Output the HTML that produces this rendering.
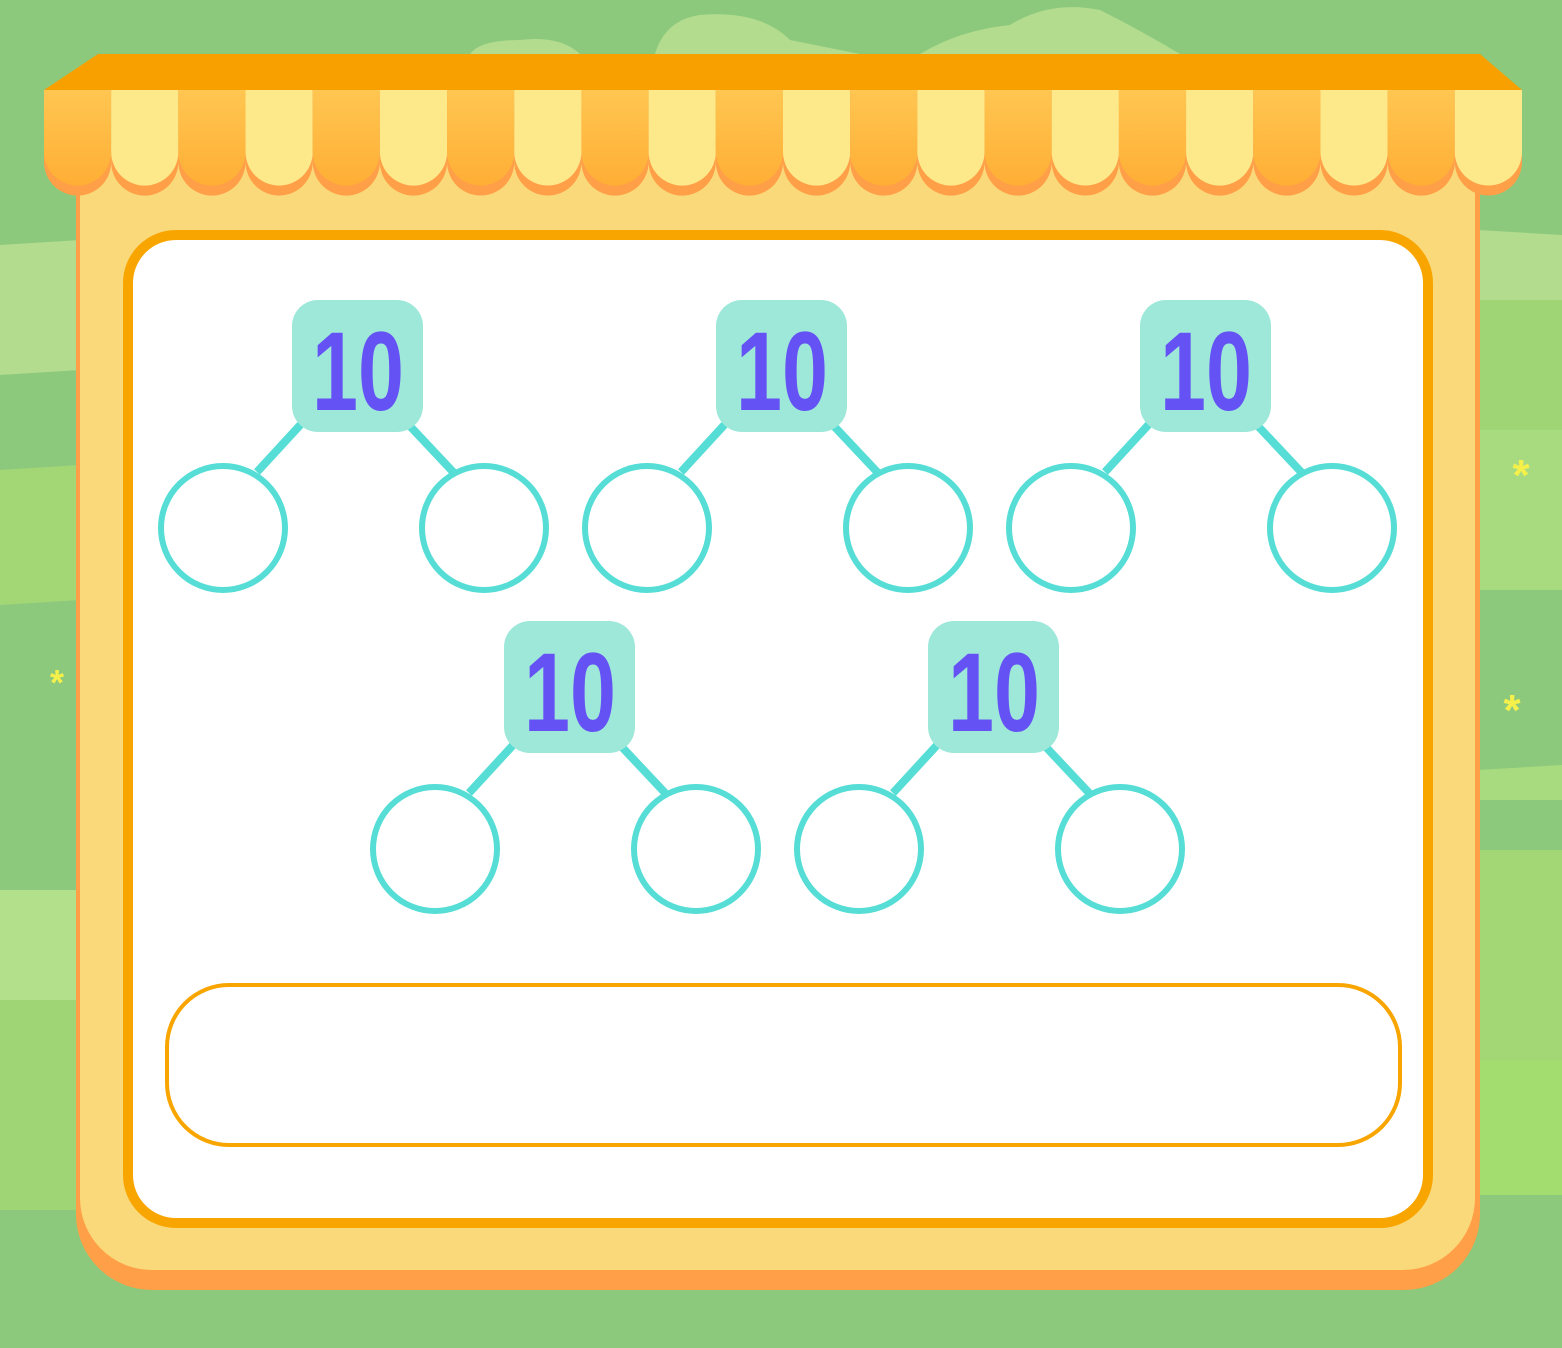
<!DOCTYPE html>
<html><head><meta charset="utf-8"><style>
html,body{margin:0;padding:0;width:1562px;height:1348px;overflow:hidden;background:#8cc97c}
svg{display:block}
</style></head><body>
<svg id="s" width="1562" height="1348" viewBox="0 0 1562 1348" xmlns="http://www.w3.org/2000/svg">
<defs>
<linearGradient id="og" x1="0" y1="0" x2="0" y2="1"><stop offset="0" stop-color="#ffc651"/><stop offset="1" stop-color="#ffae35"/></linearGradient>
</defs>
<g>
<rect width="1562" height="1348" fill="#8cc97c"/>
<path d="M0 245 L80 240 L80 370 L0 375Z" fill="#b3dc8f"/>
<path d="M0 470 L80 465 L80 600 L0 605Z" fill="#a3d776"/>
<path d="M0 890 L80 890 L80 1000 L0 1000Z" fill="#b3e08a"/>
<path d="M0 1000 L80 1000 L80 1210 L0 1210Z" fill="#9fd575"/>
<path d="M1478 230 L1562 235 L1562 300 L1478 300Z" fill="#b3dc8f"/>
<path d="M1478 300 L1562 300 L1562 430 L1478 430Z" fill="#9fd575"/>
<path d="M1478 430 L1562 430 L1562 590 L1478 590Z" fill="#a8db80"/>
<path d="M1478 770 L1562 765 L1562 800 L1478 800Z" fill="#a8db80"/>
<path d="M1478 850 L1562 850 L1562 1060 L1478 1060Z" fill="#a3d776"/>
<path d="M1478 1060 L1562 1060 L1562 1195 L1478 1195Z" fill="#a3dd6f"/>
<path d="M470 54 Q480 40 520 40 Q560 35 580 54Z" fill="#b3dc8f"/>
<path d="M655 54 Q665 20 700 15 Q760 10 790 40 L860 54Z" fill="#b3dc8f"/>
<path d="M920 54 Q960 30 1010 25 Q1050 0 1100 10 Q1140 30 1180 54Z" fill="#b3dc8f"/>
<text x="57" y="695" font-size="36" font-weight="bold" fill="#f6f04a" font-family="Liberation Sans, sans-serif" text-anchor="middle">*</text>
<text x="1521" y="490" font-size="44" font-weight="bold" fill="#f6f04a" font-family="Liberation Sans, sans-serif" text-anchor="middle">*</text>
<text x="1512" y="725" font-size="44" font-weight="bold" fill="#f6f04a" font-family="Liberation Sans, sans-serif" text-anchor="middle">*</text>
</g>
<g>
<path d="M76 150 L1480 150 L1480 1212 A76 76 0 0 1 1404 1290 L152 1290 A76 76 0 0 1 76 1212Z" fill="#ff9f47"/>
<path d="M80 150 L1475 150 L1475 1198 A72 72 0 0 1 1403 1270 L152 1270 A72 72 0 0 1 80 1198Z" fill="#fad97a"/>
</g>
<g id="awning">
<path d="M98 54 L1480 54 L1522 90 L44 90Z" fill="#f7a000"/>
</g>
<g>
<rect x="128" y="235" width="1300" height="988" rx="48" fill="#fff" stroke="#f9a500" stroke-width="10"/>
</g>
<rect x="167" y="985" width="1233" height="160" rx="62" fill="#fff" stroke="#f9a500" stroke-width="4"/>
<g id="bonds"></g>
</svg>
<script>
const NS='http://www.w3.org/2000/svg';
const bondCenters=[[357,300],[781,300],[1205,300],[569,621],[993,621]];
const bondTotals=['10','10','10','10','10'];
function mk(t,a,p){const e=document.createElementNS(NS,t);for(const k in a)e.setAttribute(k,a[k]);p.appendChild(e);return e;}
const aw=document.getElementById('awning');
const n=22,w=(1522-44)/n;
for(let i=0;i<n;i++){
  const x=44+i*w,col=i%2?'#fde98a':'url(#og)';
  const g=mk('g',{},aw);
  
  
  mk('path',{d:`M${x} 90 L${x+w} 90 L${x+w} 162 A${w/2} ${w/2} 0 0 1 ${x} 162Z`,fill:'#ff9f47'},g);
  mk('path',{d:`M${x} 90 L${x+w} 90 L${x+w} 152 A${w/2} ${w/2} 0 0 1 ${x} 152Z`,fill:col},g);
}
const bg=document.getElementById('bonds');
bondCenters.forEach((c,i)=>{
  const cx=c[0],y=c[1];
  const g=mk('g',{},bg);
  
  
  const cy=y+228;
  const l1=mk('line',{x1:cx-54,y1:y+122,x2:cx-100,y2:y+172,stroke:'#55ddd6','stroke-width':8},g);
  
  
  const l2=mk('line',{x1:cx+51,y1:y+124,x2:cx+98,y2:y+174,stroke:'#55ddd6','stroke-width':8},g);
  
  
  const r=mk('rect',{x:cx-65,y:y,width:131,height:132,rx:26,fill:'#9ee8da'},g);
  
  
  const t=mk('text',{x:cx-45,y:y+110,'font-size':112,'font-weight':'bold','font-family':'Liberation Sans, sans-serif',fill:'#6552f5',textLength:92,lengthAdjust:'spacingAndGlyphs'},g);
  t.textContent=bondTotals[i];
  
  
  const c1=mk('circle',{cx:cx-134,cy:cy,r:62,fill:'#fff',stroke:'#55ddd6','stroke-width':6},g);
  
  
  const c2=mk('circle',{cx:cx+127,cy:cy,r:62,fill:'#fff',stroke:'#55ddd6','stroke-width':6},g);
  
  
});
</script>
</body></html>
